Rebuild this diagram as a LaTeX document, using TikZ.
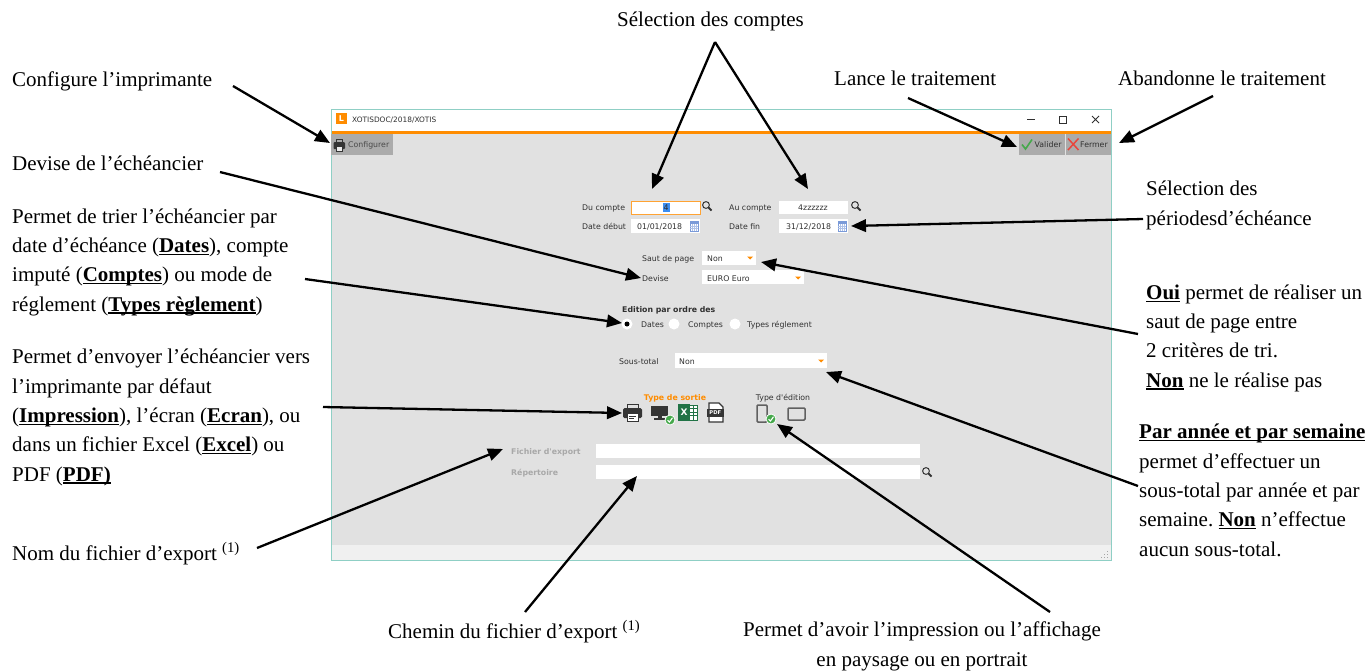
\documentclass[tikz,border=0pt]{standalone}
\usepackage{fontspec}
\setmainfont{Liberation Serif}
\newfontfamily\uifont{DejaVu Sans}
\usetikzlibrary{arrows.meta}
\frenchspacing
\definecolor{winbg}{HTML}{E1E1E1}
\definecolor{btngray}{HTML}{ABABAB}
\definecolor{orng}{HTML}{FF8C00}
\definecolor{winborder}{HTML}{8FCFC5}
\definecolor{statusbg}{HTML}{F0F0F0}
\definecolor{uitext}{HTML}{303030}
\definecolor{uilabelgray}{HTML}{A8A8A8}
\definecolor{icondark}{HTML}{353535}
\definecolor{okgreen}{HTML}{45A84B}
\definecolor{xlgreen}{HTML}{217346}
\definecolor{calblue}{HTML}{7A9AD8}
\definecolor{selblue}{HTML}{3C8DF0}
\definecolor{closered}{HTML}{E8453C}
\newcommand\myul[1]{\setbox0\hbox{\textbf{#1}}\rlap{\rule[-2.6pt]{\wd0}{1.2pt}}\box0\relax}
\tikzset{
  note/.style={inner sep=0pt, anchor=base west, align=left, font=\fontsize{21}{29.3}\selectfont\frenchspacing},
  ui/.style={inner sep=0pt, anchor=base west, text=uitext, font=\uifont\fontsize{7.8}{9.4}\selectfont},
  uibold/.style={ui, font=\uifont\bfseries\fontsize{7.8}{9.4}\selectfont},
  field/.style={fill=white, draw=none},
  arr/.style={line width=2.3pt, -{Triangle[length=15pt,width=12.5pt]}},
  ddarrow/.style={fill=orng, draw=none},
}
\begin{document}
\begin{tikzpicture}[x=1pt,y=-1pt]
\useasboundingbox (0,0) rectangle (1371,670);
\fill[white] (0,0) rectangle (1371,670);

% ---------- window ----------
\fill[white] (331,109) rectangle (1111,131);
\fill[orng] (331,131) rectangle (1111,134);
\fill[winbg] (331,134) rectangle (1111,545);
\fill[statusbg] (331,545) rectangle (1111,560);
\draw[winborder, line width=1pt] (331,109) rectangle (1111,560);
% resize grip
\foreach \gx/\gy in {1107/557,1104/557,1107/554,1101/557,1104/554,1107/551}
  \fill[gray!70] (\gx,\gy) rectangle ++(1.2,1.2);

% title bar
\fill[orng] (336,113) rectangle (347,124);
\node[inner sep=0pt, text=white, font=\uifont\bfseries\fontsize{8}{9}\selectfont] (logo) at (341.5,118.5) {L};
\node[ui, font=\uifont\fontsize{7.4}{9}\selectfont] (title) at (352,122) {XOTISDOC/2018/XOTIS};
\draw[uitext, line width=0.8pt] (1027,119.5) -- (1035,119.5);
\draw[uitext, line width=0.8pt] (1059,116) rectangle (1066,123);
\draw[uitext, line width=0.8pt] (1092,116) -- (1099,123) (1092,123) -- (1099,116);

% toolbar buttons
\fill[btngray] (331,134) rectangle (393,155);
\node[ui, text=icondark!90] (bConf) at (348,147.5) {Configurer};
% printer icon small
\draw[icondark, line width=0.8pt] (336,139) rectangle (342,142);
\fill[icondark, rounded corners=1pt] (333.5,142) rectangle (345,149);
\fill[white!85!gray] (336,146) rectangle (342,151);
\draw[icondark, line width=0.6pt] (336,146) rectangle (342,151);

\fill[btngray] (1019,134) rectangle (1065,155);
\draw[okgreen, line width=1.6pt] (1022,144.5) -- (1025.5,149) -- (1032,139.5);
\node[ui] (bVal) at (1034.5,147.5) {Valider};
\fill[btngray] (1066,134) rectangle (1111,155);
\draw[closered, line width=1.5pt] (1068,138.5) -- (1078.5,150) (1068,150) -- (1078.5,138.5);
\node[ui] (bFer) at (1080,147.5) {Fermer};

% ---------- form ----------
\node[ui] (lDu) at (582,210) {Du compte};
\fill[white] (631,201) rectangle (700,214);
\draw[orng!80, line width=0.8pt] (631,201) rectangle (700,214);
\fill[selblue] (662.5,203) rectangle (669.5,212);
\node[ui, anchor=base, text=uitext] (vDu) at (666,210) {4};
\node[ui] (lAu) at (729,210) {Au compte};
\fill[white] (779,201) rectangle (848,214);
\node[ui, anchor=base] (vAu) at (813,210) {4zzzzzz};

\node[ui] (lDeb) at (582,229) {Date début};
\fill[white] (631,219) rectangle (700,233);
\node[ui] (vDeb) at (637,229) {01/01/2018};
\node[ui] (lFin) at (729,229) {Date fin};
\fill[white] (779,219) rectangle (848,233);
\node[ui] (vFin) at (786,229) {31/12/2018};

% magnifiers
\foreach \mx/\my in {706/205, 855/205, 926/471}{
  \draw[gray!40!black, line width=1pt] (\mx,\my) circle (3.4);
  \draw[gray!40!black, line width=1.8pt] (\mx+2.6,\my+2.6) -- (\mx+5.5,\my+5.5);
}
% calendars
\foreach \cx in {690,838}{
  \draw[calblue, line width=0.6pt] (\cx,221.5) rectangle (\cx+8,231);
  \fill[calblue] (\cx,221.5) rectangle (\cx+8,223.5);
  \foreach \gx in {2,4,6} \draw[calblue!60, line width=0.4pt] (\cx+\gx,223.5) -- (\cx+\gx,231);
  \foreach \gy in {226,228.5} \draw[calblue!60, line width=0.4pt] (\cx,\gy) -- (\cx+8,\gy);
}

\node[ui] (lSaut) at (642,261) {Saut de page};
\fill[white] (702,251) rectangle (756,265);
\node[ui] (vSaut) at (707,261) {Non};
\fill[ddarrow] (747,256.5) -- (753,256.5) -- (750,259.5) -- cycle;

\node[ui] (lDev) at (642,281) {Devise};
\fill[white] (702,270) rectangle (804,284);
\node[ui] (vDev) at (707,281) {EURO Euro};
\fill[ddarrow] (795,276.5) -- (801,276.5) -- (798,279.5) -- cycle;

\node[uibold] (lEd) at (622,312) {Edition par ordre des};
\fill[white] (627,324) circle (5.5);
\fill[black] (627,324) circle (2.5);
\node[ui] (rDates) at (641,327) {Dates};
\fill[white] (674,324) circle (5.5);
\node[ui] (rComptes) at (688,327) {Comptes};
\fill[white] (735,324) circle (5.5);
\node[ui] (rTypes) at (747,327) {Types réglement};

\node[ui] (lSous) at (619,364) {Sous-total};
\fill[white] (675,353) rectangle (827,368);
\node[ui] (vSous) at (679,364) {Non};
\fill[ddarrow] (818,359.5) -- (824,359.5) -- (821,362.5) -- cycle;

\node[uibold, anchor=base, text=orng] (lSortie) at (675,400) {Type de sortie};
\node[ui, anchor=base] (lEdition) at (783,400) {Type d'édition};

% printer icon
\draw[icondark, line width=1pt] (627,404) rectangle (638,408);
\fill[icondark, rounded corners=1.5pt] (623,408) rectangle (642,418);
\fill[white] (627,413) rectangle (638,421);
\draw[icondark, line width=1pt] (627,413) rectangle (638,421);
\draw[icondark, line width=0.8pt] (629,416) -- (636,416) (629,418.5) -- (634,418.5);
% monitor icon
\fill[icondark] (651,406) rectangle (668,415.5);
\fill[icondark] (657.5,415.5) rectangle (661.5,418);
\fill[icondark] (654,418) rectangle (665,419.5);
\fill[okgreen, draw=white, line width=0.8pt] (670,420) circle (5);
\draw[white, line width=1.1pt] (667.6,420.2) -- (669.4,422) -- (672.5,417.8);
% excel icon
\fill[white] (686,405) rectangle (697,420);
\draw[xlgreen, line width=0.8pt] (686,405) rectangle (697,420);
\foreach \ly in {408.5,412,415.5} \draw[xlgreen, line width=0.6pt] (690,\ly) -- (697,\ly);
\draw[xlgreen, line width=0.6pt] (693.5,405) -- (693.5,420);
\fill[xlgreen] (678,404) rectangle (690,421);
\node[inner sep=0pt, text=white, font=\uifont\bfseries\fontsize{9}{10}\selectfont] (xlX) at (684,412.5) {X};
% pdf icon
\fill[white] (709,403) -- (719,403) -- (723,407) -- (723,422) -- (709,422) -- cycle;
\draw[icondark, line width=1.1pt] (709,403) -- (719,403) -- (723,407) -- (723,422) -- (709,422) -- cycle;
\fill[icondark] (707,408.5) rectangle (723.5,416.5);
\node[inner sep=0pt, text=white, font=\uifont\bfseries\fontsize{5.2}{6}\selectfont] (pdfT) at (715.3,412.6) {PDF};

% type d'edition icons
\draw[gray!75!black, line width=1.5pt, rounded corners=1pt] (757,405) rectangle (767,422);
\fill[okgreen, draw=white, line width=0.8pt] (771,419) circle (5);
\draw[white, line width=1.1pt] (768.6,419.2) -- (770.4,421) -- (773.5,416.8);
\draw[gray!75!black, line width=1.5pt, rounded corners=1pt] (788,408) rectangle (805,420);

\node[uibold, text=uilabelgray] (lFich) at (511,454) {Fichier d'export};
\fill[white] (596,444) rectangle (920,458);
\node[uibold, text=uilabelgray] (lRep) at (511,475) {Répertoire};
\fill[white] (596,465) rectangle (920,479);

% ---------- annotation texts (multi-line nodes are placed by their last baseline) ----------
\node[note] (tConf) at (12,86) {Configure l’imprimante};
\node[note] (tDev) at (12,170) {Devise de l’échéancier};
\node[note] (tTri) at (12,311) {Permet de trier l’échéancier par\\date d’échéance (\myul{Dates}), compte\\imputé (\myul{Comptes}) ou mode de\\réglement (\myul{Types règlement})};
\node[note] (tEnv) at (12,481) {Permet d’envoyer l’échéancier vers\\l’imprimante par défaut\\(\myul{Impression}), l’écran (\myul{Ecran}), ou\\dans un fichier Excel (\myul{Excel}) ou\\PDF (\myul{PDF)}};
\node[note] (tNom) at (12,560) {Nom du fichier d’export \textsuperscript{(1)}};
\node[note] (tSel) at (617,26) {Sélection des comptes};
\node[note] (tLance) at (834,85) {Lance le traitement};
\node[note] (tAband) at (1118,85) {Abandonne le traitement};
\node[note] (tPer) at (1146,225) {Sélection des\\périodesd’échéance};
\node[note] (tOui) at (1146,387) {\myul{Oui} permet de réaliser un\\saut de page entre\\2 critères de tri.\\\myul{Non} ne le réalise pas};
\node[note] (tPar) at (1139,556) {\myul{Par année et par semaine}\\permet d’effectuer un\\sous-total par année et par\\semaine. \myul{Non} n’effectue\\aucun sous-total.};
\node[note] (tChem) at (388,638) {Chemin du fichier d’export \textsuperscript{(1)}};
\node[note, align=center, anchor=base] (tPays) at (922,666) {Permet d’avoir l’impression ou l’affichage\\en paysage ou en portrait};

% ---------- arrow end points ----------
\coordinate (sConf) at (233,86);   \coordinate (eConf) at (330,143);
\coordinate (sSel) at (715,42);    \coordinate (eSelA) at (652,189); \coordinate (eSelB) at (808,189);
\coordinate (sLance) at (908,98);  \coordinate (eLance) at (1017,147);
\coordinate (sAband) at (1213,96); \coordinate (eAband) at (1119,143);
\coordinate (sDev) at (220,172);   \coordinate (eDev) at (641,278);
\coordinate (sTri) at (305,279);   \coordinate (eTri) at (622,323);
\coordinate (sPer) at (1143,219);  \coordinate (ePer) at (851,226);
\coordinate (sOui) at (1138,334);  \coordinate (eOui) at (761,262);
\coordinate (sSous) at (1138,486); \coordinate (eSous) at (826,372);
\coordinate (sEnv) at (323,407);   \coordinate (eEnv) at (622,413);
\coordinate (sNom) at (257,548);   \coordinate (eNom) at (503,449);
\coordinate (sChem) at (525,612);  \coordinate (eChem) at (637,476);
\coordinate (sPays) at (1050,612); \coordinate (ePays) at (777,424);

\draw[arr] (sConf) -- (eConf);
\draw[arr] (sSel) -- (eSelA);
\draw[arr] (sSel) -- (eSelB);
\draw[arr] (sLance) -- (eLance);
\draw[arr] (sAband) -- (eAband);
\draw[arr] (sDev) -- (eDev);
\draw[arr] (sTri) -- (eTri);
\draw[arr] (sPer) -- (ePer);
\draw[arr] (sOui) -- (eOui);
\draw[arr] (sSous) -- (eSous);
\draw[arr] (sEnv) -- (eEnv);
\draw[arr] (sNom) -- (eNom);
\draw[arr] (sChem) -- (eChem);
\draw[arr] (sPays) -- (ePays);
\end{tikzpicture}
\end{document}
